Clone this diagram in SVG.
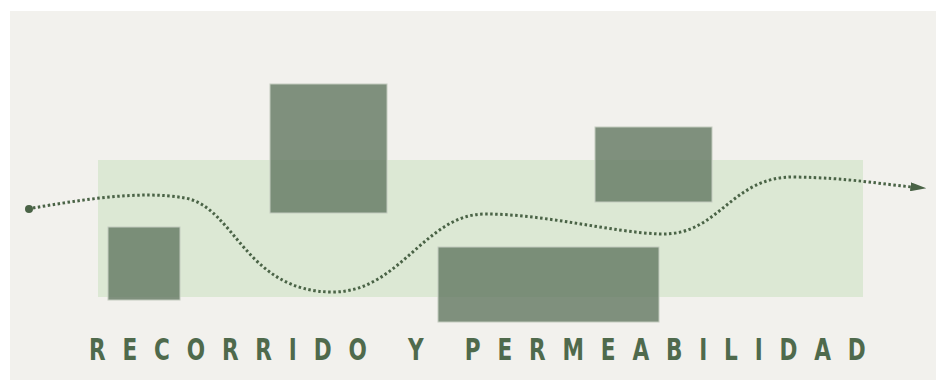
<svg xmlns="http://www.w3.org/2000/svg" width="936" height="381" viewBox="0 0 936 381">
  <style>
    .blk { fill: #5f755e; fill-opacity: 0.78; stroke: #c3cbbf; stroke-width: 1; }
    .route { fill: none; stroke: #4a6346; stroke-width: 3; stroke-dasharray: 2.5 2.5; }
    .title { font-family: "DejaVu Sans Condensed", "DejaVu Sans", sans-serif; font-weight: bold; font-size: 30px; fill: #4f6a4c; }
  </style>
  <defs>
    <marker id="arrow" viewBox="0 0 10 10" refX="1" refY="5" markerWidth="16" markerHeight="9" markerUnits="userSpaceOnUse" orient="auto" preserveAspectRatio="none">
      <path d="M0,0 L10,5 L0,10 Z" fill="#4a6346"/>
    </marker>
  </defs>
  <rect x="0" y="0" width="936" height="381" fill="#ffffff"/>
  <rect id="panel" x="10" y="11" width="926" height="369" fill="#f2f1ed"/>
  <g id="zone">
    <rect x="98" y="160" width="765" height="137" fill="#dce8d4"/>
  </g>
  <g id="block-1"><rect class="blk" x="108" y="227" width="72" height="73"/></g>
  <g id="block-2"><rect class="blk" x="270" y="84" width="117" height="129"/></g>
  <g id="block-3"><rect class="blk" x="595" y="127" width="117" height="75"/></g>
  <g id="block-4"><rect class="blk" x="438" y="247" width="221" height="75"/></g>
  <g id="connectors">
    <circle cx="29" cy="209" r="4" fill="#4a6346"/>
    <path class="route" marker-end="url(#arrow)" d="M33,208 C80,200 140,190 185,198 C235,207 245,292 333,292 C400,292 425,214 485,214 C545,214 610,232 660,234 C720,236 730,176 795,177 C850,178 880,184 912,187"/>
  </g>
  <text class="title" transform="scale(0.8,1)" x="111.25" y="360" textLength="971" lengthAdjust="spacing">RECORRIDO Y PERMEABILIDAD</text>
</svg>
